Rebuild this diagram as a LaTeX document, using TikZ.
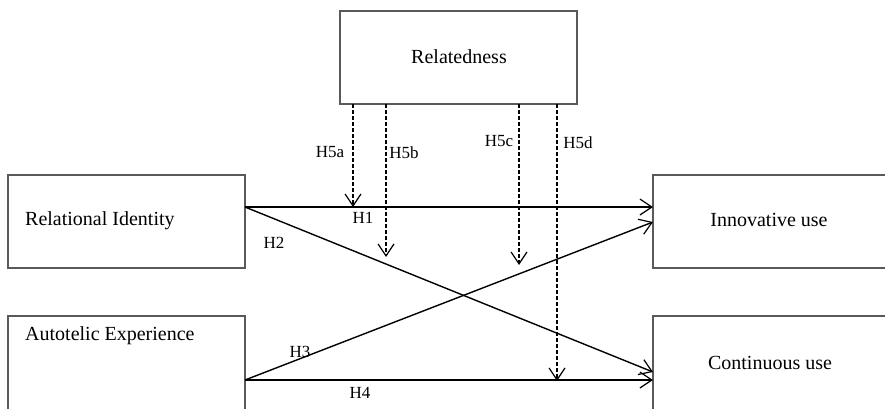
\documentclass[tikz,border=0pt]{standalone}
\usepackage{fontspec}
\setmainfont{Liberation Serif}
\usetikzlibrary{arrows.meta}
\begin{document}
\begin{tikzpicture}[x=1pt,y=-1pt,
  box/.style={draw=black!65, line width=1.1pt, minimum width=237pt, minimum height=93pt, inner sep=0pt, outer sep=0pt, anchor=north west},
  lbl/.style={font=\fontsize{20}{24}\selectfont, inner sep=0pt},
  hyp/.style={font=\fontsize{17}{20}\selectfont, inner sep=0pt},
  path/.style={line width=1.4pt, -{Straight Barb[length=12pt,width=16pt,line width=1.2pt]}},
  mod/.style={line width=1.1pt, dash pattern=on 4pt off 2pt, -{Straight Barb[length=12pt,width=16pt,line width=1.2pt]}}]
\useasboundingbox (0,0) rectangle (885,408);
\clip (0,0) rectangle (885,408);
% boxes
\node[box] (rel) at (340,11) {};
\node[box] (ri) at (8,175) {};
\node[box, minimum height=100pt] (ae) at (8,316) {};
\node[box, minimum width=245pt] (iu) at (653,175) {};
\node[box, minimum width=245pt, minimum height=100pt] (cu) at (653,316) {};
% texts
\node[lbl] (trel) at (459,57) {Relatedness};
\node[lbl, anchor=west] (tri) at (25,221) {Relational Identity};
\node[lbl, anchor=west] (tae) at (25,336) {Autotelic Experience};
\node[lbl] (tiu) at (769,220) {Innovative use};
\node[lbl] (tcu) at (770,363) {Continuous use};
% connector anchors
\coordinate (riA) at (245,207);
\coordinate (aeA) at (245,380);
\coordinate (iuA) at (653,207);
\coordinate (iuB) at (653,222);
\coordinate (cuA) at (653,372);
\coordinate (cuB) at (653,380);
\coordinate (r1) at (353,104);
\coordinate (r2) at (386,104);
\coordinate (r3) at (519,104);
\coordinate (r4) at (557,104);
\coordinate (t1) at (353,207);
\coordinate (t2) at (386,257);
\coordinate (t3) at (519,265);
\coordinate (t4) at (557,381);
% paths
\draw[path] (riA) -- (iuA);
\draw[path] (riA) -- (cuA);
\draw[path] (aeA) -- (iuB);
\draw[path] (aeA) -- (cuB);
\draw[mod] (r1) -- (t1);
\draw[mod] (r2) -- (t2);
\draw[mod] (r3) -- (t3);
\draw[mod] (r4) -- (t4);
% labels
\node[hyp] (h5a) at (330,152) {H5a};
\node[hyp] (h5b) at (404,153) {H5b};
\node[hyp] (h5c) at (499,141) {H5c};
\node[hyp] (h5d) at (578,143) {H5d};
\node[hyp] (h1) at (363,218) {H1};
\node[hyp] (h2) at (274,243) {H2};
\node[hyp] (h3) at (300,352) {H3};
\node[hyp] (h4) at (360,393) {H4};
\end{tikzpicture}
\end{document}
